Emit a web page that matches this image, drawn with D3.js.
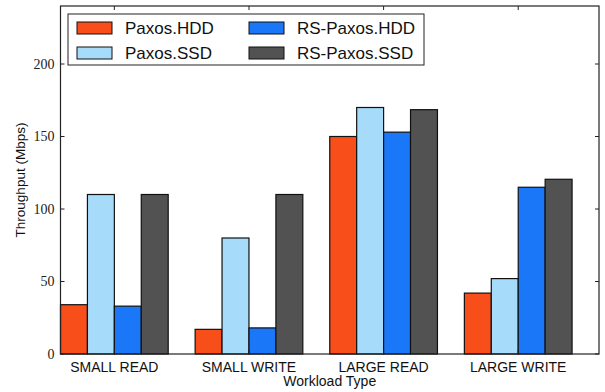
<!DOCTYPE html>
<html>
<head>
<meta charset="utf-8">
<script src="https://cdn.jsdelivr.net/npm/d3@7"></script>
<style>
  body { margin: 0; background: #fff; }
  svg { display: block; }
</style>
</head>
<body>
<div id="chart"></div>
<script>
// workload groups along the x axis
const workloads = ["SMALL READ", "SMALL WRITE", "LARGE READ", "LARGE WRITE"];
const seriesNames = ["Paxos.HDD", "Paxos.SSD", "RS-Paxos.HDD", "RS-Paxos.SSD"];
// throughput values per series, one per workload
const paxosHDD = [34, 17, 150, 42];
const paxosSSD = [110, 80, 170, 52];
const rsPaxosHDD = [33, 18, 153, 115];
const rsPaxosSSD = [110, 110, 168.5, 120.5];
const yTicks = [0, 50, 100, 150, 200];

const colors = ["#f84f1a", "#a6dbfa", "#1a78f8", "#525252"];
const allSeries = [paxosHDD, paxosSSD, rsPaxosHDD, rsPaxosSSD];

const W = 605, H = 392;
const margin = { left: 60.5, right: 6, top: 6, bottom: 38 };
const plotW = W - margin.left - margin.right;
const plotH = H - margin.top - margin.bottom;

const svg = d3.select("#chart").append("svg")
    .attr("width", W)
    .attr("height", H);

const g = svg.append("g")
    .attr("transform", `translate(${margin.left},${margin.top})`);

const x = d3.scaleBand()
    .domain(workloads)
    .range([0, plotW])
    .padding(0);

// bars take up the first 80% of each band
const xInner = d3.scaleBand()
    .domain(seriesNames)
    .range([0, x.bandwidth() * 0.8]);

const y = d3.scaleLinear()
    .domain([0, 240])
    .range([plotH, 0]);

// bars
const rows = [];
workloads.forEach((w, i) => {
    seriesNames.forEach((s, j) => {
        rows.push({ workload: w, series: s, value: allSeries[j][i], color: colors[j] });
    });
});

g.append("g")
    .selectAll("rect")
    .data(rows)
    .join("rect")
    .attr("x", d => x(d.workload) + xInner(d.series))
    .attr("y", d => y(d.value))
    .attr("width", xInner.bandwidth())
    .attr("height", d => plotH - y(d.value))
    .attr("fill", d => d.color)
    .attr("stroke", "#111")
    .attr("stroke-width", 1.2);

const groupCenter = w => x(w) + x.bandwidth() * 0.4;

// inward ticks on all four sides
const ticks = g.append("g").attr("stroke", "#222").attr("stroke-width", 1);
yTicks.forEach(t => {
    ticks.append("line").attr("x1", 0).attr("x2", 4).attr("y1", y(t)).attr("y2", y(t));
    ticks.append("line").attr("x1", plotW).attr("x2", plotW - 4).attr("y1", y(t)).attr("y2", y(t));
});
workloads.forEach(w => {
    const cx = groupCenter(w);
    ticks.append("line").attr("x1", cx).attr("x2", cx).attr("y1", 0).attr("y2", 4);
    ticks.append("line").attr("x1", cx).attr("x2", cx).attr("y1", plotH).attr("y2", plotH - 4);
});

// frame
g.append("rect")
    .attr("width", plotW)
    .attr("height", plotH)
    .attr("fill", "none")
    .attr("stroke", "#222")
    .attr("stroke-width", 1.2);

// y tick labels
g.append("g")
    .selectAll("text")
    .data(yTicks)
    .join("text")
    .attr("x", -6)
    .attr("y", d => y(d))
    .attr("dy", "0.35em")
    .attr("text-anchor", "end")
    .attr("font-family", "'Liberation Serif', 'DejaVu Serif', serif")
    .attr("font-size", 14)
    .attr("fill", "#222")
    .text(d => d);

// x tick labels
g.append("g")
    .selectAll("text")
    .data(workloads)
    .join("text")
    .attr("x", d => groupCenter(d))
    .attr("y", plotH + 18)
    .attr("text-anchor", "middle")
    .attr("font-family", "'Liberation Sans', Arial, sans-serif")
    .attr("font-size", 14)
    .attr("fill", "#111")
    .text(d => d);

// axis titles
svg.append("text")
    .attr("x", margin.left + plotW / 2)
    .attr("y", H - 6)
    .attr("text-anchor", "middle")
    .attr("font-family", "'Liberation Sans', Arial, sans-serif")
    .attr("font-size", 14)
    .attr("fill", "#111")
    .text("Workload Type");

svg.append("text")
    .attr("transform", `translate(25,${margin.top + plotH / 2}) rotate(-90)`)
    .attr("text-anchor", "middle")
    .attr("font-family", "'Liberation Sans', Arial, sans-serif")
    .attr("font-size", 13.5)
    .attr("fill", "#111")
    .text("Throughput (Mbps)");

// legend
const legend = svg.append("g").attr("transform", "translate(68,14)");
legend.append("rect")
    .attr("width", 356)
    .attr("height", 51)
    .attr("fill", "#fff")
    .attr("stroke", "#222")
    .attr("stroke-width", 1);

const items = legend.selectAll("g.item")
    .data(seriesNames)
    .join("g")
    .attr("class", "item")
    .attr("transform", (d, i) => `translate(${9 + Math.floor(i / 2) * 172},${8 + (i % 2) * 25})`);

items.append("rect")
    .attr("width", 35)
    .attr("height", 12)
    .attr("fill", (d, i) => colors[i])
    .attr("stroke", "#111")
    .attr("stroke-width", 1);

items.append("text")
    .attr("x", 48)
    .attr("y", 6)
    .attr("dy", "0.36em")
    .attr("font-family", "'Liberation Sans', Arial, sans-serif")
    .attr("font-size", 17)
    .attr("fill", "#111")
    .text(d => d);
</script>
</body>
</html>
